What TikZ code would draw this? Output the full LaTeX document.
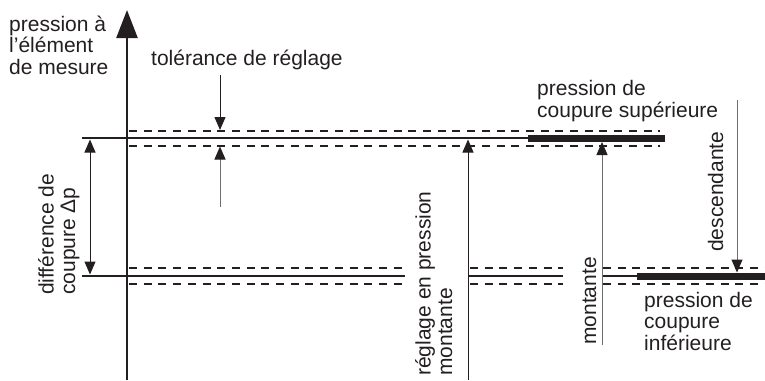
\documentclass[tikz,border=0pt]{standalone}
\usepackage{fontspec}
\setmainfont{Liberation Sans}
\usetikzlibrary{arrows.meta}
\definecolor{ink}{HTML}{231F20}
\definecolor{lightink}{HTML}{6D6E71}
\begin{document}
\begin{tikzpicture}[x=1bp,y=-1bp,
  lbl/.style={inner sep=0pt, align=left, text=ink, font=\fontsize{21bp}{21.5bp}\selectfont},
  vlbl/.style={lbl, rotate=90, anchor=base west},
  hlbl/.style={lbl, anchor=base west},
  mainline/.style={draw=ink, line width=2bp},
  heavy/.style={draw=ink, line width=7bp},
  tol/.style={draw=ink, line width=1.4bp, dash pattern=on 8bp off 6.7bp},
  tip/.style={-{Triangle[length=13bp,width=11bp]}},
  thinarrow/.style={draw=ink, line width=1bp, tip},
  grayarrow/.style={draw=lightink, line width=1bp, -{Triangle[length=13bp,width=11bp,color=ink]}},
]
\useasboundingbox (0,0) rectangle (765,380);
% axis
\coordinate (axB) at (127,380);
\coordinate (axT) at (127,10);
\draw[ink, line width=2.5bp, -{Triangle[length=28bp,width=21bp]}] (axB) -- (axT);
% upper level
\coordinate (uL) at (82,138);
\coordinate (uM) at (528,138);
\coordinate (uR) at (665,138);
\draw[mainline] (uL) -- (uM);
\draw[heavy] (uM) -- (uR);
\coordinate (uta) at (129,131); \coordinate (utb) at (660,131);
\coordinate (uba) at (129,146); \coordinate (ubb) at (660,146);
\draw[tol] (uta) -- (utb);
\draw[tol] (uba) -- (ubb);
% lower level
\coordinate (l1a) at (82,276);  \coordinate (l1b) at (405,276);
\coordinate (l2a) at (469,276); \coordinate (l2b) at (563,276);
\coordinate (l3a) at (602,276); \coordinate (l3m) at (637,276); \coordinate (l3b) at (765,276);
\draw[mainline] (l1a) -- (l1b);
\draw[mainline] (l2a) -- (l2b);
\draw[mainline] (l3a) -- (l3m);
\draw[heavy] (l3m) -- (l3b);
\foreach \yy/\nm in {268/t,284/b}{
  \coordinate (d1a\nm) at (129,\yy); \coordinate (d1b\nm) at (405,\yy);
  \coordinate (d2a\nm) at (470,\yy); \coordinate (d2b\nm) at (563,\yy);
  \coordinate (d3a\nm) at (603,\yy); \coordinate (d3b\nm) at (765,\yy);
  \draw[tol] (d1a\nm) -- (d1b\nm);
  \draw[tol] (d2a\nm) -- (d2b\nm);
  \draw[tol] (d3a\nm) -- (d3b\nm);
}
% tolerance arrows
\coordinate (tA) at (220,75);  \coordinate (tAe) at (220,130);
\coordinate (tB) at (220,207); \coordinate (tBe) at (220,146.5);
\draw[thinarrow] (tA) -- (tAe);
\draw[grayarrow] (tB) -- (tBe);
% difference arrow
\coordinate (dA) at (90,139.5); \coordinate (dB) at (90,274.5);
\draw[ink, line width=1bp, {Triangle[length=13bp,width=11bp]}-{Triangle[length=13bp,width=11bp]}] (dA) -- (dB);
% setting line
\coordinate (rA) at (468,380); \coordinate (rB) at (468,139.5);
\draw[thinarrow] (rA) -- (rB);
% rising
\coordinate (mA) at (602,345); \coordinate (mB) at (602,142);
\draw[grayarrow] (mA) -- (mB);
% falling
\coordinate (fA) at (737,100); \coordinate (fB) at (737,272.5);
\draw[grayarrow] (fA) -- (fB);
% labels (anchor = baseline of the last line)
\node[hlbl] (yl) at (9,74) {pression à\\l’élément\\de mesure};
\node[hlbl] (tl) at (151,65) {tolérance de réglage};
\node[hlbl] (sup) at (537,117) {pression de\\coupure supérieure};
\node[hlbl] (inf) at (644,350) {pression de\\coupure\\inférieure};
\node[vlbl] (dp) at (75,295) {différence de\\coupure Δp};
\node[vlbl] (reg) at (452,376) {réglage en pression\\montante};
\node[vlbl] (mon) at (596,345) {montante};
\node[vlbl] (desc) at (723,252) {descendante};
\end{tikzpicture}
\end{document}
